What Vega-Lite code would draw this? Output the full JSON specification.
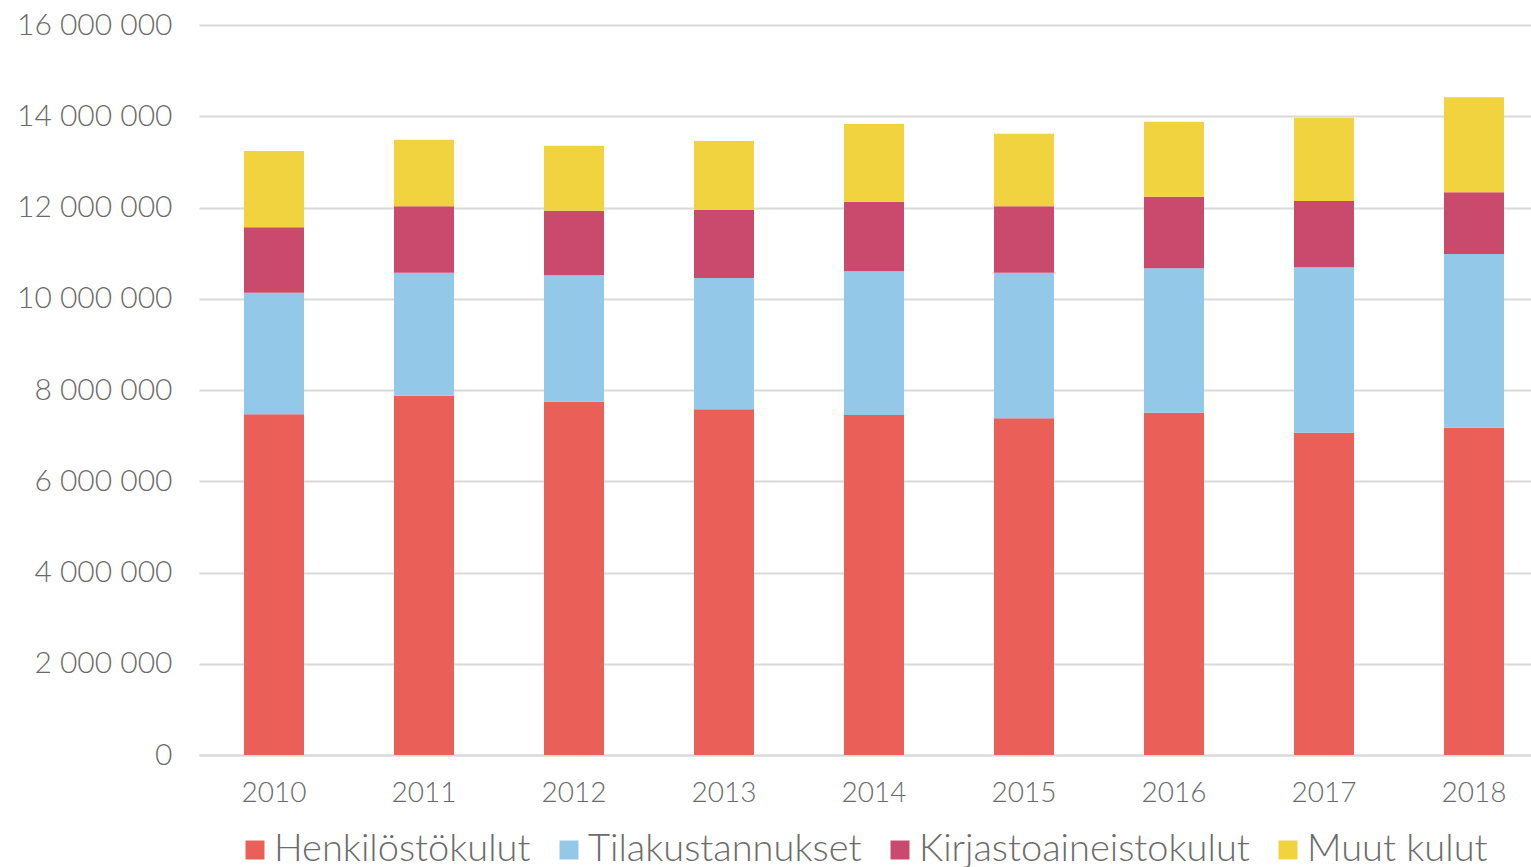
{
  "$schema": "https://vega.github.io/schema/vega-lite/v6.json",
  "width": 1332,
  "height": 730,
  "autosize": "none",
  "padding": {"left": 199, "top": 25, "right": 0, "bottom": 112},
  "background": "white",
  "config": {
    "view": {"stroke": null},
    "font": "Lato",
    "axis": {"labelFont": "Lato", "labelFontWeight": 300, "labelColor": "#6b6b6b"},
    "legend": {"labelFont": "Lato", "labelFontWeight": 300, "labelColor": "#6b6b6b"}
  },
  "data": {
    "values": [
      {"vuosi": "2010", "laji": "Henkilöstökulut", "euro": 7467000},
      {"vuosi": "2010", "laji": "Tilakustannukset", "euro": 2663000},
      {"vuosi": "2010", "laji": "Kirjastoaineistokulut", "euro": 1436000},
      {"vuosi": "2010", "laji": "Muut kulut", "euro": 1672000},
      {"vuosi": "2011", "laji": "Henkilöstökulut", "euro": 7875000},
      {"vuosi": "2011", "laji": "Tilakustannukset", "euro": 2696000},
      {"vuosi": "2011", "laji": "Kirjastoaineistokulut", "euro": 1455000},
      {"vuosi": "2011", "laji": "Muut kulut", "euro": 1460000},
      {"vuosi": "2012", "laji": "Henkilöstökulut", "euro": 7744000},
      {"vuosi": "2012", "laji": "Tilakustannukset", "euro": 2770000},
      {"vuosi": "2012", "laji": "Kirjastoaineistokulut", "euro": 1416000},
      {"vuosi": "2012", "laji": "Muut kulut", "euro": 1424000},
      {"vuosi": "2013", "laji": "Henkilöstökulut", "euro": 7577000},
      {"vuosi": "2013", "laji": "Tilakustannukset", "euro": 2878000},
      {"vuosi": "2013", "laji": "Kirjastoaineistokulut", "euro": 1497000},
      {"vuosi": "2013", "laji": "Muut kulut", "euro": 1506000},
      {"vuosi": "2014", "laji": "Henkilöstökulut", "euro": 7452000},
      {"vuosi": "2014", "laji": "Tilakustannukset", "euro": 3149000},
      {"vuosi": "2014", "laji": "Kirjastoaineistokulut", "euro": 1527000},
      {"vuosi": "2014", "laji": "Muut kulut", "euro": 1702000},
      {"vuosi": "2015", "laji": "Henkilöstökulut", "euro": 7379000},
      {"vuosi": "2015", "laji": "Tilakustannukset", "euro": 3192000},
      {"vuosi": "2015", "laji": "Kirjastoaineistokulut", "euro": 1455000},
      {"vuosi": "2015", "laji": "Muut kulut", "euro": 1592000},
      {"vuosi": "2016", "laji": "Henkilöstökulut", "euro": 7503000},
      {"vuosi": "2016", "laji": "Tilakustannukset", "euro": 3164000},
      {"vuosi": "2016", "laji": "Kirjastoaineistokulut", "euro": 1570000},
      {"vuosi": "2016", "laji": "Muut kulut", "euro": 1644000},
      {"vuosi": "2017", "laji": "Henkilöstökulut", "euro": 7065000},
      {"vuosi": "2017", "laji": "Tilakustannukset", "euro": 3624000},
      {"vuosi": "2017", "laji": "Kirjastoaineistokulut", "euro": 1453000},
      {"vuosi": "2017", "laji": "Muut kulut", "euro": 1827000},
      {"vuosi": "2018", "laji": "Henkilöstökulut", "euro": 7174000},
      {"vuosi": "2018", "laji": "Tilakustannukset", "euro": 3807000},
      {"vuosi": "2018", "laji": "Kirjastoaineistokulut", "euro": 1352000},
      {"vuosi": "2018", "laji": "Muut kulut", "euro": 2082000}
    ]
  },
  "transform": [
    {"calculate": "indexof(['Henkilöstökulut','Tilakustannukset','Kirjastoaineistokulut','Muut kulut'], datum.laji)", "as": "jarj"}
  ],
  "mark": {"type": "bar"},
  "encoding": {
    "x": {
      "field": "vuosi",
      "type": "ordinal",
      "scale": {"paddingInner": 0.6, "paddingOuter": 0.24, "align": 0.625},
      "axis": {
        "title": null,
        "labelAngle": 0,
        "labelFontSize": 28,
        "labelPadding": 24,
        "ticks": false,
        "domain": true,
        "domainColor": "#d9d9d9",
        "domainWidth": 2,
        "grid": false
      }
    },
    "y": {
      "field": "euro",
      "type": "quantitative",
      "stack": "zero",
      "scale": {"domain": [0, 16000000], "nice": false},
      "axis": {
        "title": null,
        "values": [0, 2000000, 4000000, 6000000, 8000000, 10000000, 12000000, 14000000, 16000000],
        "labelExpr": "replace(format(datum.value, ','), regexp(',', 'g'), ' ')",
        "labelFontSize": 30,
        "labelPadding": 27,
        "ticks": false,
        "domain": false,
        "grid": true,
        "gridColor": "#d9d9d9",
        "gridWidth": 2
      }
    },
    "color": {
      "field": "laji",
      "type": "nominal",
      "sort": ["Henkilöstökulut", "Tilakustannukset", "Kirjastoaineistokulut", "Muut kulut"],
      "scale": {
        "domain": ["Henkilöstökulut", "Tilakustannukset", "Kirjastoaineistokulut", "Muut kulut"],
        "range": ["#EA5F57", "#93C8E9", "#CA4A6D", "#F1D23F"]
      },
      "legend": {
        "title": null,
        "orient": "none",
        "legendX": 37,
        "legendY": 806,
        "direction": "horizontal",
        "columns": 4,
        "columnPadding": 19,
        "symbolType": "square",
        "symbolSize": 360,
        "symbolStrokeWidth": 0,
        "labelFontSize": 38,
        "labelLimit": 0,
        "labelOffset": 0
      }
    },
    "order": {"field": "jarj", "type": "quantitative"}
  }
}
